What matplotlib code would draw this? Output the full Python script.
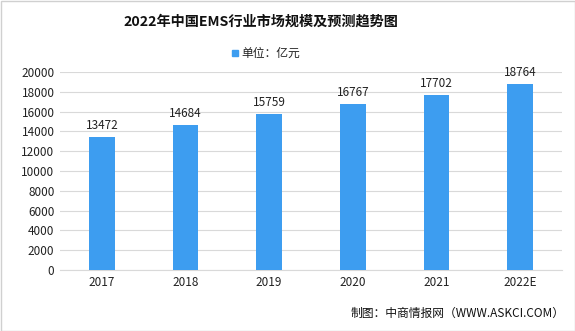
import matplotlib
matplotlib.use("Agg")
import matplotlib.pyplot as plt
from matplotlib.patches import Rectangle

plt.rcParams['font.family'] = ['Noto Sans CJK SC', 'DejaVu Sans']

categories = ['2017', '2018', '2019', '2020', '2021', '2022E']
values = [13472, 14684, 15759, 16767, 17702, 18764]
yticks = [0, 2000, 4000, 6000, 8000, 10000, 12000, 14000, 16000, 18000, 20000]

W, H = 575, 331
fig = plt.figure(figsize=(W/100, H/100), dpi=100)
ax = fig.add_axes([60/W, 1-270/H, (562-60)/W, (270-72)/H])

x = range(len(categories))
ax.bar(x, values, width=0.31, color='#3d9df0', zorder=3)
for xi, v in zip(x, values):
    ax.text(xi, v + 500, str(v), ha='center', va='bottom', fontsize=8.5, color='#222222')

ax.set_xlim(-0.5, len(categories) - 0.5)
ax.set_ylim(0, 20000)
ax.set_yticks(yticks)
ax.set_yticklabels([str(t) for t in yticks], fontsize=8.5, color='#222222')
ax.set_xticks(list(x))
ax.set_xticklabels(categories, fontsize=8.5, color='#222222')
ax.yaxis.grid(True, color='#d9d9d9', linewidth=0.8, zorder=0)
ax.tick_params(axis='both', length=0, pad=4)
for s in ['top', 'right', 'left']:
    ax.spines[s].set_visible(False)
ax.spines['bottom'].set_color('#d9d9d9')

fig.text(261/W, 1-22/H, '2022年中国EMS行业市场规模及预测趋势图', ha='center', va='center',
         fontsize=10.2, fontweight='bold', color='#111111')
fig.patches.append(Rectangle((232/W, 1-56/H), 6/W, 6/H, transform=fig.transFigure,
                             color='#3d9df0'))
fig.text(241/W, 1-53/H, '单位：亿元', ha='left', va='center', fontsize=8.5, color='#222222')
fig.text(565/W, 1-313/H, '制图：中商情报网（WWW.ASKCI.COM）', ha='right', va='center',
         fontsize=8.5, color='#111111')
fig.patches.append(Rectangle((0.5/W, 0.5/H), 1-1/W, 1-1/H, transform=fig.transFigure,
                             fill=False, edgecolor='#d0d0d0', linewidth=1))

fig.savefig('out.png', dpi=100)
